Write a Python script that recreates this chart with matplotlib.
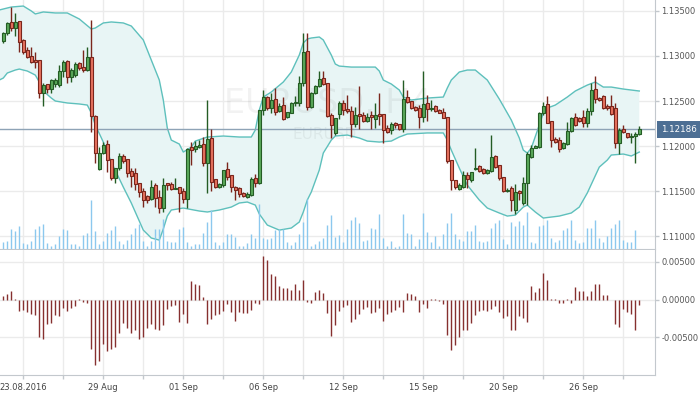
import matplotlib
matplotlib.use('Agg')
import matplotlib.pyplot as plt
import matplotlib.transforms as mtransforms
from matplotlib.ticker import FormatStrFormatter
import numpy as np

plt.rcParams['font.family'] = ['DejaVu Sans']
plt.rcParams['axes.unicode_minus'] = False

# EURUSD, H4 candles
opens = [
    1.13167, 1.13256, 1.13378, 1.13311, 1.13389, 1.13178, 1.13066, 1.12999, 1.12955, 1.12955,
    1.12589, 1.12689, 1.12633, 1.12689, 1.12677, 1.12833, 1.12944, 1.12766, 1.12788, 1.12922,
    1.12877, 1.12844, 1.12988, 1.12333, 1.11744, 1.11922, 1.12022, 1.11855, 1.11644, 1.11755,
    1.11888, 1.11855, 1.11722, 1.11700, 1.11589, 1.11500, 1.11444, 1.11411, 1.11566, 1.11433,
    1.11311, 1.11589, 1.11578, 1.11522, 1.11544, 1.11500, 1.11411, 1.11988, 1.11966, 1.11988,
    1.12022, 1.11811, 1.12089, 1.11633, 1.11544, 1.11566, 1.11744, 1.11677, 1.11544, 1.11533,
    1.11478, 1.11433, 1.11455, 1.11644, 1.11589, 1.12400, 1.12544, 1.12422, 1.12522, 1.12389,
    1.12455, 1.12322, 1.12367, 1.12478, 1.12478, 1.12700, 1.13055, 1.12433, 1.12589, 1.12666,
    1.12755, 1.12700, 1.12344, 1.12145, 1.12356, 1.12478, 1.12411, 1.12389, 1.12245, 1.12356,
    1.12344, 1.12278, 1.12344, 1.12300, 1.12356, 1.12356, 1.12200, 1.12178, 1.12256, 1.12245,
    1.12189, 1.12544, 1.12500, 1.12433, 1.12422, 1.12322, 1.12478, 1.12411, 1.12444, 1.12400,
    1.12378, 1.12322, 1.11844, 1.11622, 1.11522, 1.11544, 1.11677, 1.11622, 1.11750, 1.11777,
    1.11744, 1.11700, 1.11722, 1.11888, 1.11788, 1.11655, 1.11500, 1.11533, 1.11289, 1.11500,
    1.11367, 1.11589, 1.11877, 1.11983, 1.11988, 1.12367, 1.12467, 1.12278, 1.12078, 1.12066,
    1.11977, 1.12022, 1.12167, 1.12322, 1.12311, 1.12322, 1.12256, 1.12389, 1.12633, 1.12533,
    1.12555, 1.12444, 1.12444, 1.12422, 1.12033, 1.12189, 1.12145, 1.12100, 1.12111, 1.12133,
]
highs = [
    1.13267, 1.13378, 1.13544, 1.13478, 1.13389, 1.13189, 1.13100, 1.13100, 1.13044, 1.12955,
    1.12700, 1.12689, 1.12744, 1.12755, 1.12899, 1.12955, 1.12955, 1.12866, 1.12933, 1.12933,
    1.13066, 1.13100, 1.13400, 1.12344, 1.11988, 1.12044, 1.12066, 1.11855, 1.11755, 1.11922,
    1.11911, 1.11855, 1.11755, 1.11755, 1.11589, 1.11533, 1.11455, 1.11622, 1.11589, 1.11511,
    1.11644, 1.11589, 1.11600, 1.11644, 1.11544, 1.11533, 1.11977, 1.12044, 1.12055, 1.12066,
    1.12100, 1.12511, 1.12189, 1.11633, 1.11589, 1.11733, 1.11822, 1.11677, 1.11555, 1.11544,
    1.11489, 1.11489, 1.11655, 1.11689, 1.12400, 1.12622, 1.12555, 1.12589, 1.12644, 1.12478,
    1.12544, 1.12378, 1.12489, 1.12555, 1.12777, 1.13256, 1.13256, 1.12600, 1.12677, 1.12833,
    1.12833, 1.12700, 1.12367, 1.12311, 1.12500, 1.12511, 1.12566, 1.12444, 1.12433, 1.12666,
    1.12378, 1.12367, 1.12389, 1.12478, 1.12589, 1.12356, 1.12233, 1.12267, 1.12267, 1.12245,
    1.12733, 1.12622, 1.12500, 1.12444, 1.12455, 1.12833, 1.12566, 1.12511, 1.12455, 1.12411,
    1.12422, 1.12322, 1.11844, 1.11622, 1.11589, 1.11722, 1.11711, 1.11711, 1.11977, 1.11788,
    1.11755, 1.11744, 1.12122, 1.11899, 1.11788, 1.11655, 1.11533, 1.11555, 1.11578, 1.11511,
    1.11655, 1.11933, 1.12010, 1.12010, 1.12378, 1.12489, 1.12555, 1.12278, 1.12100, 1.12100,
    1.12044, 1.12267, 1.12322, 1.12367, 1.12322, 1.12400, 1.12422, 1.12700, 1.12777, 1.12544,
    1.12566, 1.12467, 1.12566, 1.12478, 1.12200, 1.12233, 1.12145, 1.12145, 1.12156, 1.12222,
]
lows = [
    1.13145, 1.13233, 1.13278, 1.13222, 1.13044, 1.13022, 1.12977, 1.12922, 1.12866, 1.12533,
    1.12444, 1.12589, 1.12589, 1.12655, 1.12655, 1.12766, 1.12700, 1.12711, 1.12766, 1.12844,
    1.12822, 1.12833, 1.12156, 1.11811, 1.11733, 1.11911, 1.11711, 1.11622, 1.11589, 1.11733,
    1.11811, 1.11655, 1.11544, 1.11511, 1.11433, 1.11322, 1.11367, 1.11400, 1.11322, 1.11256,
    1.11267, 1.11511, 1.11511, 1.11522, 1.11267, 1.11367, 1.11311, 1.11788, 1.11933, 1.11977,
    1.11777, 1.11478, 1.11500, 1.11533, 1.11533, 1.11544, 1.11622, 1.11489, 1.11400, 1.11433,
    1.11433, 1.11422, 1.11444, 1.11544, 1.11578, 1.12344, 1.12400, 1.12367, 1.12344, 1.12378,
    1.12289, 1.12311, 1.12367, 1.12444, 1.12444, 1.12666, 1.12400, 1.12422, 1.12578, 1.12655,
    1.12677, 1.12322, 1.12089, 1.12122, 1.12300, 1.12344, 1.12367, 1.12100, 1.12211, 1.12189,
    1.12267, 1.12267, 1.12189, 1.12200, 1.12233, 1.12033, 1.12145, 1.12134, 1.12200, 1.12178,
    1.12156, 1.12478, 1.12411, 1.12389, 1.12200, 1.12267, 1.12278, 1.12389, 1.12378, 1.12367,
    1.12311, 1.11811, 1.11511, 1.11522, 1.11511, 1.11533, 1.11533, 1.11600, 1.11733, 1.11711,
    1.11689, 1.11689, 1.11711, 1.11755, 1.11622, 1.11489, 1.11489, 1.11278, 1.11245, 1.11400,
    1.11344, 1.11344, 1.11866, 1.11977, 1.11977, 1.12344, 1.12256, 1.11988, 1.12033, 1.11933,
    1.11966, 1.12010, 1.12156, 1.12222, 1.12267, 1.12211, 1.12211, 1.12344, 1.12478, 1.12500,
    1.12411, 1.12400, 1.12344, 1.11977, 1.11911, 1.12145, 1.12089, 1.12033, 1.11811, 1.12122,
]
closes = [
    1.13250, 1.13367, 1.13311, 1.13378, 1.13156, 1.13044, 1.12988, 1.12933, 1.12938, 1.12589,
    1.12677, 1.12633, 1.12733, 1.12738, 1.12833, 1.12933, 1.12766, 1.12844, 1.12911, 1.12866,
    1.12844, 1.12988, 1.12333, 1.11922, 1.11922, 1.12010, 1.11844, 1.11644, 1.11755, 1.11888,
    1.11833, 1.11700, 1.11666, 1.11578, 1.11489, 1.11400, 1.11400, 1.11544, 1.11422, 1.11311,
    1.11566, 1.11566, 1.11522, 1.11533, 1.11478, 1.11411, 1.11966, 1.11955, 1.11999, 1.12010,
    1.11811, 1.12078, 1.11600, 1.11544, 1.11578, 1.11733, 1.11655, 1.11544, 1.11511, 1.11467,
    1.11444, 1.11467, 1.11633, 1.11589, 1.12400, 1.12544, 1.12422, 1.12511, 1.12378, 1.12444,
    1.12300, 1.12378, 1.12478, 1.12489, 1.12700, 1.13044, 1.12433, 1.12589, 1.12666, 1.12744,
    1.12689, 1.12333, 1.12233, 1.12311, 1.12478, 1.12400, 1.12389, 1.12245, 1.12344, 1.12333,
    1.12278, 1.12322, 1.12322, 1.12344, 1.12333, 1.12178, 1.12156, 1.12245, 1.12233, 1.12189,
    1.12522, 1.12489, 1.12422, 1.12400, 1.12322, 1.12467, 1.12411, 1.12422, 1.12389, 1.12367,
    1.12311, 1.11833, 1.11622, 1.11544, 1.11566, 1.11677, 1.11633, 1.11711, 1.11755, 1.11722,
    1.11700, 1.11733, 1.11877, 1.11766, 1.11644, 1.11500, 1.11511, 1.11400, 1.11489, 1.11478,
    1.11589, 1.11911, 1.11977, 1.11999, 1.12367, 1.12444, 1.12256, 1.12066, 1.12044, 1.11966,
    1.12033, 1.12167, 1.12311, 1.12233, 1.12278, 1.12256, 1.12389, 1.12622, 1.12522, 1.12511,
    1.12422, 1.12422, 1.12356, 1.12033, 1.12178, 1.12156, 1.12100, 1.12111, 1.12133, 1.12186,
]
last_price = 1.12186

# volume (arbitrary units)
volume = [
    6.7, 8.3, 20.0, 18.3, 22.7, 6.0, 5.0, 8.3, 20.0, 22.7,
    25.0, 6.0, 3.3, 5.0, 13.3, 20.0, 19.3, 5.0, 5.0, 3.3,
    14.0, 15.7, 49.0, 18.3, 5.0, 8.0, 16.0, 19.0, 22.7, 8.3,
    5.0, 9.0, 15.0, 21.0, 25.0, 8.3, 3.3, 8.0, 20.0, 20.0,
    30.0, 8.3, 6.7, 7.0, 20.0, 21.7, 6.7, 3.3, 5.0, 5.0,
    15.7, 26.7, 39.0, 7.3, 4.0, 7.3, 15.0, 15.0, 12.3, 3.0,
    3.3, 6.0, 15.0, 10.7, 45.0, 10.7, 10.0, 10.7, 19.0, 20.0,
    20.0, 6.7, 4.0, 7.3, 15.0, 27.3, 50.0, 3.3, 5.0, 8.0,
    11.3, 24.0, 34.0, 12.3, 14.0, 7.3, 20.0, 29.3, 31.7, 26.0,
    8.3, 9.3, 20.7, 20.0, 35.0, 10.7, 3.3, 8.3, 1.7, 2.7,
    35.0, 16.0, 15.0, 2.7, 10.0, 36.0, 17.3, 6.7, 12.7, 3.3,
    15.0, 26.0, 36.0, 15.0, 10.0, 8.3, 18.3, 18.3, 24.0, 8.3,
    7.3, 8.3, 20.7, 26.0, 29.3, 10.0, 5.0, 27.5, 23.0, 28.0,
    24.3, 36.7, 7.0, 6.0, 23.3, 24.3, 29.3, 11.0, 6.7, 9.3,
    19.3, 21.0, 29.3, 9.3, 6.0, 6.7, 21.0, 21.0, 28.7, 11.0,
    6.7, 12.7, 21.0, 25.3, 29.3, 8.7, 6.7, 6.7, 18.7, 0.0,
]

# oscillator histogram
osc = [
    0.00044, 0.0007, 0.0011, 0.00013, -0.0015, -0.0014, -0.0017, -0.0019, -0.0021, -0.0049,
    -0.0052, -0.0032, -0.0031, -0.0021, -0.0022, -0.0011, -0.0015, -0.0011, -0.0009, 0.00005,
    -0.0003, -0.0004, -0.0065, -0.0086, -0.0082, -0.0059, -0.0068, -0.0066, -0.0063, -0.0044,
    -0.0031, -0.0038, -0.0044, -0.0041, -0.0052, -0.0049, -0.0038, -0.0032, -0.0039, -0.0041,
    -0.0034, -0.0012, -0.0008, -0.0007, -0.0030, -0.0019, -0.0031, 0.0024, 0.0021, 0.0019,
    0.0003, -0.0033, -0.0026, -0.0021, -0.0019, -0.0015, -0.0006, -0.0016, -0.0028, -0.0016,
    -0.0018, -0.0018, -0.0014, -0.0004, -0.0006, 0.0057, 0.0052, 0.0034, 0.0031, 0.0018,
    0.0015, 0.0015, 0.0012, 0.0020, 0.0012, 0.0026, -0.0003, -0.0004, 0.0010, 0.0013,
    0.0008, -0.0018, -0.0048, -0.0034, -0.0015, -0.0010, -0.0007, -0.0030, -0.0026, -0.0019,
    -0.0012, -0.0010, -0.0018, -0.0016, -0.0011, -0.0029, -0.0019, -0.0016, -0.0014, -0.0010,
    -0.0016, 0.0009, 0.0007, 0.0004, -0.0016, -0.0006, -0.0011, 0.00002, 0.0001, -0.0002,
    -0.0006, -0.0047, -0.0067, -0.0060, -0.0050, -0.0041, -0.0041, -0.0031, -0.0021, -0.0015,
    -0.0014, -0.0015, -0.0013, -0.0009, -0.0016, -0.0025, -0.0022, -0.0041, -0.0040, -0.0022,
    -0.0025, -0.0030, 0.0018, 0.0010, 0.0015, 0.0035, 0.0026, 0.0001, 0.0001, -0.0004,
    -0.0004, 0.0001, -0.0004, 0.0016, 0.0011, 0.0011, 0.0004, 0.0011, 0.0020, 0.0020,
    0.0006, 0.0006, -0.0001, -0.0033, -0.0037, -0.0012, -0.0016, -0.0019, -0.0040, -0.0007,
]

# Bollinger band, sampled along the bars
upper_idx = [-1, 0, 2, 5, 7, 8, 10, 13, 16, 19, 22, 23, 25, 27, 30, 32, 35, 37, 38, 39,
             40, 41, 42, 44, 45, 47, 48, 51, 55, 59, 62, 63, 64, 65, 67, 70, 72, 74, 75, 76,
             77, 79, 80, 82, 83, 84, 87, 93, 94, 95, 97, 99, 100, 102, 106, 110, 111, 112, 114, 116,
             118, 121, 124, 126, 127, 129, 130, 131, 132, 134, 135, 136, 138, 141, 143, 146, 148, 150, 152, 155,
             159]
upper_band = [1.13511, 1.13522, 1.13544, 1.13555, 1.13500, 1.13467, 1.13489, 1.13478, 1.13478, 1.13411,
              1.13300, 1.13311, 1.13367, 1.13378, 1.13367, 1.13333, 1.13178, 1.12955, 1.12844, 1.12733,
              1.12511, 1.12200, 1.12066, 1.12022, 1.11933, 1.11988, 1.12055, 1.12100, 1.12111, 1.12100,
              1.12100, 1.12178, 1.12400, 1.12544, 1.12600, 1.12711, 1.12822, 1.13011, 1.13145, 1.13189,
              1.13200, 1.13211, 1.13178, 1.13011, 1.12911, 1.12888, 1.12877, 1.12877, 1.12833, 1.12733,
              1.12689, 1.12622, 1.12544, 1.12511, 1.12533, 1.12544, 1.12644, 1.12733, 1.12822, 1.12844,
              1.12844, 1.12733, 1.12522, 1.12367, 1.12289, 1.12089, 1.11955, 1.11922, 1.11977, 1.12233,
              1.12367, 1.12422, 1.12455, 1.12544, 1.12611, 1.12677, 1.12711, 1.12655, 1.12655, 1.12633,
              1.12611]
lower_idx = [-1, 0, 1, 3, 4, 6, 7, 8, 9, 10, 12, 13, 16, 19, 21, 22, 23, 25, 27, 30,
             32, 35, 37, 39, 40, 41, 42, 45, 49, 51, 54, 57, 59, 61, 63, 64, 66, 69, 72, 74,
             75, 76, 77, 79, 80, 82, 83, 86, 89, 91, 94, 97, 99, 101, 106, 110, 111, 112, 114, 116,
             119, 121, 124, 126, 128, 130, 131, 133, 135, 139, 142, 144, 146, 149, 151, 152, 155, 157, 159]
lower_band = [1.12733, 1.12755, 1.12811, 1.12844, 1.12855, 1.12833, 1.12811, 1.12788, 1.12711, 1.12611,
              1.12533, 1.12500, 1.12478, 1.12467, 1.12455, 1.12367, 1.12233, 1.12044, 1.11822, 1.11544,
              1.11367, 1.11066, 1.10978, 1.10955, 1.11078, 1.11222, 1.11289, 1.11311, 1.11278, 1.11267,
              1.11289, 1.11322, 1.11367, 1.11378, 1.11344, 1.11245, 1.11122, 1.11066, 1.11089, 1.11156,
              1.11267, 1.11400, 1.11489, 1.11733, 1.11922, 1.12066, 1.12111, 1.12122, 1.12089, 1.12055,
              1.12044, 1.12055, 1.12100, 1.12133, 1.12145, 1.12145, 1.12066, 1.11955, 1.11755, 1.11566,
              1.11400, 1.11311, 1.11256, 1.11222, 1.11233, 1.11322, 1.11344, 1.11267, 1.11200, 1.11222,
              1.11256, 1.11322, 1.11478, 1.11766, 1.11844, 1.11900, 1.11911, 1.11889, 1.11933]

price_ticks = [1.110, 1.115, 1.120, 1.125, 1.130, 1.135]
osc_ticks = [0.005, 0.0, -0.005]
date_pos = [5, 25, 45, 65, 85, 105, 125, 145]
date_labels = ['23.08.2016', '29 Aug', '01 Sep', '06 Sep', '12 Sep', '15 Sep', '20 Sep', '26 Sep']

opens = np.array(opens)
highs = np.array(highs)
lows = np.array(lows)
closes = np.array(closes)
idx = np.arange(len(closes))

grid_c = '#ebebeb'
spine_c = '#c3c8cd'
up_fill, up_edge = '#5aa95a', '#245c24'
dn_fill, dn_edge = '#e8735f', '#7a261c'

fig = plt.figure(figsize=(7.0, 3.94), dpi=100)
ax = fig.add_axes([0.0, 0.368, 0.9357, 0.632])
ax_osc = fig.add_axes([0.0, 0.0482, 0.9357, 0.3173])
# volume sits on a hidden twin of the price axis (twinx moves ticks, so make it first)
ax_vol = ax.twinx()

xmin, xmax = -0.825, 162.925

# --- price panel ---
ax.set_xlim(xmin, xmax)
ax.set_ylim(1.10856, 1.13622)
ax.set_axisbelow(True)
ax.grid(True, color=grid_c, lw=1)

bx = np.concatenate([upper_idx, lower_idx[::-1]])
by = np.concatenate([upper_band, lower_band[::-1]])
ax.fill(bx, by, color='#e8f5f5', lw=0, zorder=1)
ax.plot(upper_idx, upper_band, color='#5ec0bc', lw=1, zorder=2)
ax.plot(lower_idx, lower_band, color='#5ec0bc', lw=1, zorder=2)

ax.text(0.5, 0.586, 'EURUSD, H4', transform=ax.transAxes, ha='center', va='center',
        fontsize=24, color='black', alpha=0.05, zorder=1.5)
ax.text(0.496, 0.458, 'EURUSD', transform=ax.transAxes, ha='center', va='center',
        fontsize=11, color='black', alpha=0.05, zorder=1.5)

ax.axhline(last_price, color='#8ea3b6', lw=1, zorder=2.5)

up = closes >= opens
body_lo = np.minimum(opens, closes)
body_h = np.maximum(np.abs(closes - opens), 0.00003)
ax.vlines(idx, lows, highs, colors=np.where(up, up_edge, dn_edge), lw=1, zorder=3)
ax.bar(idx, body_h, bottom=body_lo, width=0.72, color=np.where(up, up_fill, dn_fill),
       edgecolor=np.where(up, up_edge, dn_edge), linewidth=0.8, zorder=4)

ax.yaxis.tick_right()
ax.yaxis.set_label_position('right')
ax.set_yticks(price_ticks)
ax.yaxis.set_major_formatter(FormatStrFormatter('%.5f'))
ax.tick_params(axis='y', which='both', left=False, labelleft=False, right=True, labelright=True,
               length=3, width=1, color=spine_c, labelsize=6, labelcolor='#555555', pad=1.5)
ax.set_xticks(np.arange(5, 160, 10))
ax.tick_params(axis='x', length=0, labelbottom=False)
for s in ['top', 'left']:
    ax.spines[s].set_visible(False)
for s in ['right', 'bottom']:
    ax.spines[s].set_color(spine_c)

trans = mtransforms.blended_transform_factory(ax.transAxes, ax.transData)
ax.text(1.009, last_price, '%.5f' % last_price, transform=trans, ha='left', va='center',
        fontsize=6.3, color='white', clip_on=False, zorder=6,
        bbox=dict(boxstyle='square,pad=0.45', fc='#4d6f94', ec='none'))

ax_vol.set_ylim(0, 249)
ax_vol.set_xlim(xmin, xmax)
ax_vol.vlines(idx, 0, volume, colors='#8cc8ee', lw=1)
ax_vol.set_yticks([])
ax_vol.tick_params(axis='y', left=False, right=False, labelleft=False, labelright=False)
for s in ax_vol.spines.values():
    s.set_visible(False)

# --- oscillator panel ---
ax_osc.set_xlim(xmin, xmax)
ax_osc.set_ylim(-0.00999, 0.00655)
ax_osc.set_axisbelow(True)
ax_osc.grid(True, color=grid_c, lw=1)
ax_osc.vlines(idx, 0, osc, colors='#86302f', lw=1.0)

ax_osc.yaxis.tick_right()
ax_osc.set_yticks(osc_ticks)
ax_osc.yaxis.set_major_formatter(FormatStrFormatter('%.5f'))
ax_osc.tick_params(axis='y', length=3, width=1, color=spine_c, labelsize=6,
                   labelcolor='#555555', pad=1.5)
xt = np.arange(5, 160, 10)
ax_osc.set_xticks(xt)
ax_osc.set_xticklabels([date_labels[date_pos.index(t)] if t in date_pos else '' for t in xt])
ax_osc.tick_params(axis='x', length=3, width=1, color=spine_c, labelsize=6,
                   labelcolor='#444444', pad=2.5)
for s in ['top', 'left']:
    ax_osc.spines[s].set_visible(False)
for s in ['right', 'bottom']:
    ax_osc.spines[s].set_color(spine_c)

fig.savefig('out.png', dpi=100)
